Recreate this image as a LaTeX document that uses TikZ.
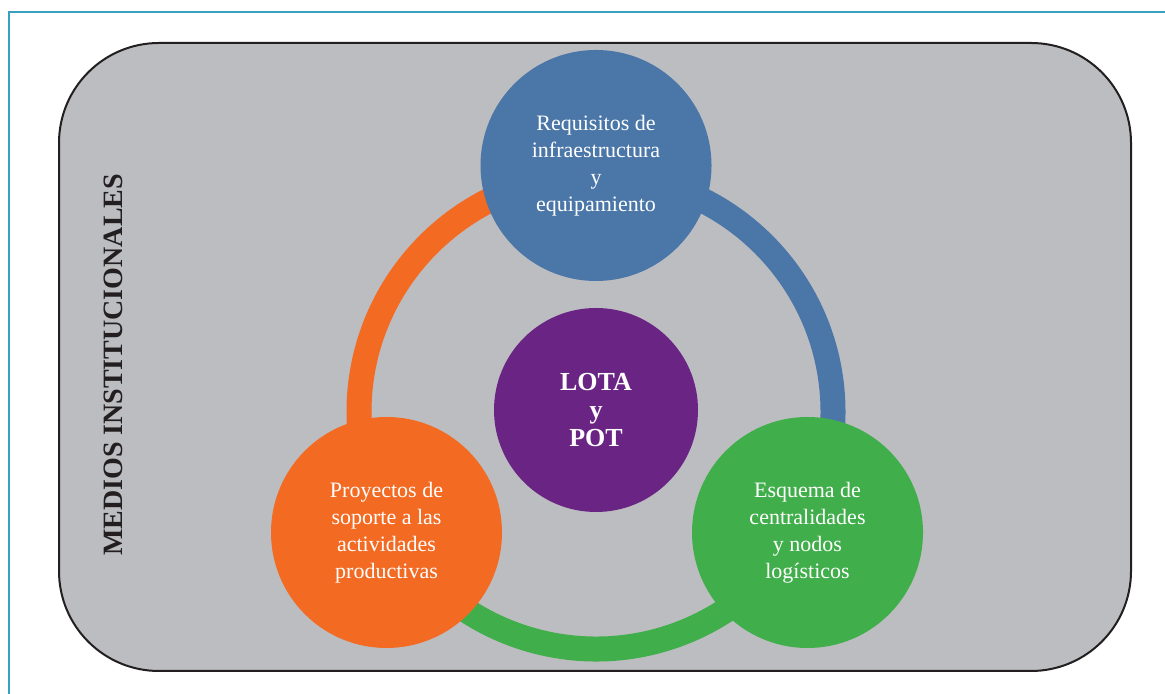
\documentclass[tikz,border=0pt]{standalone}
\usepackage{fontspec}
\setmainfont{Liberation Serif}
\usetikzlibrary{positioning,calc}
\definecolor{framecyan}{RGB}{58,160,192}
\definecolor{panelgray}{RGB}{188,189,192}
\definecolor{panelink}{RGB}{35,31,32}
\definecolor{reqblue}{RGB}{74,118,168}
\definecolor{proyorange}{RGB}{243,106,35}
\definecolor{esqgreen}{RGB}{64,174,74}
\definecolor{lotapurple}{RGB}{106,37,132}

\tikzset{
  bubble/.style={circle, inner sep=0pt, minimum size=115.5pt, text=white,
    align=center, font=\fontsize{11}{13.5}\selectfont},
  ringarc/.style={line width=12.5pt},
}

\begin{document}
\begin{tikzpicture}[x=0.5pt, y=0.5pt]
  \useasboundingbox (0,0) rectangle (1165,694);
  \clip (0,0) rectangle (1165,694);
  \fill[white] (0,0) rectangle (1165,694);
  \draw[framecyan, line width=0.8pt] (9,682) rectangle (1190,-20);
  \draw[panelink, fill=panelgray, line width=1pt, rounded corners=50pt]
    (59,23) rectangle (1131,651);

  \coordinate (C) at (596,282);
  \def\ringr{118.5pt}

  \foreach \col/\from/\to in {proyorange/90/210, reqblue/90/-30, esqgreen/210/330} {
    \draw[ringarc, \col] (C) ++(\from:\ringr)
      arc[start angle=\from, end angle=\to, radius=\ringr];
  }

  \node[bubble, fill=reqblue] (req) at (596,528.5)
    {Requisitos de\\infraestructura\\y\\equipamiento};
  \node[bubble, fill=proyorange] (proy) at (386.5,161.5)
    {Proyectos de\\soporte a las\\actividades\\productivas};
  \node[bubble, fill=esqgreen] (esq) at (807.5,161.5)
    {Esquema de\\centralidades\\y nodos\\log\'isticos};
  \node[bubble, fill=lotapurple, minimum size=102pt,
    font=\bfseries\fontsize{13}{14}\selectfont] (lota) at (596,284)
    {LOTA\\y\\POT};

  \node[rotate=90, text=panelink, font=\bfseries\fontsize{14}{16}\selectfont]
    (medios) at (113,329) {MEDIOS INSTITUCIONALES};
\end{tikzpicture}
\end{document}
